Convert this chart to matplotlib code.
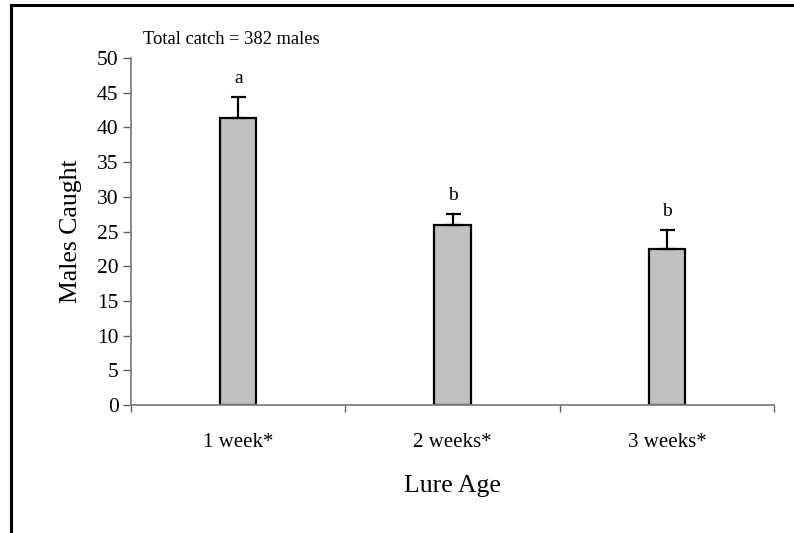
import matplotlib.pyplot as plt
from matplotlib.patches import Rectangle

plt.rcParams['font.family'] = ['Liberation Serif', 'DejaVu Serif']

ages = ['1 week*', '2 weeks*', '3 weeks*']
males = [41.4, 26.0, 22.5]
se = [3.0, 1.6, 2.7]
letters = ['a', 'b', 'b']

fig = plt.figure(figsize=(7.94, 5.33), dpi=100)
ax = fig.add_axes([0.165, 0.240, 0.810, 0.651])

pos = [i + 0.5 for i in range(len(ages))]
ax.bar(pos, males, width=0.17, color='#c0c0c0', edgecolor='black',
       linewidth=1.6, zorder=2)
ax.errorbar(pos, males, yerr=[[0] * len(se), se], fmt='none',
            ecolor='black', elinewidth=1.6, capsize=5.4, capthick=1.6,
            zorder=3)

for x, m, e, t in zip(pos, males, se, letters):
    ax.annotate(t, xy=(x, m + e), xytext=(0, 7), textcoords='offset points',
                ha='center', va='bottom', fontsize=14)

ax.set_xlim(0, 3)
ax.set_ylim(0, 50)
ax.set_yticks(range(0, 51, 5))
ax.set_xticks(range(0, 4))
ax.set_xticks(pos, minor=True)
ax.set_xticklabels([])
ax.set_xticklabels(ages, minor=True)
ax.tick_params(axis='x', which='minor', length=0, pad=20, labelsize=15)
ax.tick_params(axis='x', which='major', length=5, width=1, color='#606060',
               direction='out')
ax.tick_params(axis='y', length=6, width=1, color='#606060', labelsize=15.5,
               pad=3)

for s in ['top', 'right']:
    ax.spines[s].set_visible(False)
for s in ['left', 'bottom']:
    ax.spines[s].set_color('#808080')
    ax.spines[s].set_linewidth(1.3)

ax.set_ylabel('Males Caught', fontsize=18.5, labelpad=11)
ax.set_xlabel('Lure Age', fontsize=18.5, labelpad=17)

fig.text(143 / 794, 1 - 40 / 533, 'Total catch = 382 males', fontsize=13.3,
         ha='left', va='center')

# outer frame, only left and top edges fall inside the canvas
fig.patches.append(Rectangle((11 / 794, -0.2), 1.2, 1.2 - 5 / 533,
                             transform=fig.transFigure, fill=False,
                             edgecolor='black', linewidth=2.2))

fig.savefig('out.png', dpi=100)
